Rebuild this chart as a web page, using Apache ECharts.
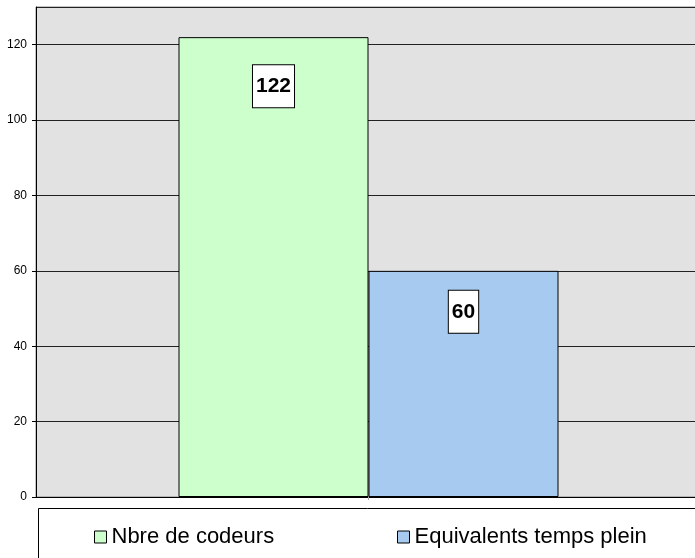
<!DOCTYPE html>
<html>
<head>
<meta charset="utf-8">
<script src="https://cdn.jsdelivr.net/npm/echarts@6/dist/echarts.min.js"></script>
<style>html,body{margin:0;padding:0;background:#fff;}#c{width:695px;height:558px;}</style>
</head>
<body>
<div id="c"></div>
<script>
const categories = [''];
const seriesNames = ['Nbre de codeurs', 'Equivalents temps plein'];
const nbreCodeurs = [122];
const equivalentsTempsPlein = [60];
const yTicks = [0, 20, 40, 60, 80, 100, 120];

const FONT = 'Liberation Sans, Arial, sans-serif';
const chart = echarts.init(document.getElementById('c'), null, {renderer: 'canvas'});

const labelBase = {
  show: true,
  position: 'insideTop',
  color: '#000',
  fontFamily: FONT,
  fontWeight: 'bold',
  fontSize: 21,
  backgroundColor: '#fff',
  borderColor: '#000',
  borderWidth: 1,
  padding: [11, 3, 10, 3]
};

const legendBase = {
  top: 521, icon: 'rect', padding: 0,
  itemWidth: 12, itemHeight: 12, itemGap: 6,
  textStyle: {fontSize: 22, color: '#000', fontFamily: FONT},
  itemStyle: {borderColor: '#000', borderWidth: 1}
};

chart.setOption({
  animation: false,
  backgroundColor: '#fff',
  textStyle: {fontFamily: FONT},
  grid: {
    left: 36, top: 7, width: 665, bottom: 61,
    outerBoundsMode: 'none',
    show: true, backgroundColor: '#e2e2e2', borderColor: '#888', borderWidth: 1,
    containLabel: false
  },
  graphic: [{
    type: 'rect', z: 0,
    shape: {x: 38.5, y: 508.5, width: 700, height: 80},
    style: {fill: '#fff', stroke: '#000', lineWidth: 1}
  }],
  legend: [
    Object.assign({}, legendBase, {data: [seriesNames[0]], left: 94, top: 526}),
    Object.assign({}, legendBase, {data: [seriesNames[1]], left: 397, top: 526})
  ],
  xAxis: {
    type: 'category', data: categories,
    axisLine: {show: true, lineStyle: {color: '#000', width: 1}},
    axisTick: {show: true, alignWithLabel: true, length: 3, lineStyle: {color: '#aaa'}},
    axisLabel: {show: false}
  },
  yAxis: {
    type: 'value', min: 0, max: 130, interval: 20,
    axisLine: {show: true, lineStyle: {color: '#000', width: 1}},
    axisTick: {show: true, length: 4, lineStyle: {color: '#000'}},
    axisLabel: {
      color: '#000', fontSize: 12, fontFamily: FONT, margin: 9,
      showMaxLabel: false,
      formatter: v => (yTicks.indexOf(v) >= 0 ? String(v) : '')
    },
    splitLine: {show: true, lineStyle: {color: '#222', width: 1}}
  },
  series: [
    {
      name: seriesNames[0], type: 'bar', data: nbreCodeurs,
      barGap: '0%', barWidth: 190,
      itemStyle: {color: '#ccffcc', borderColor: '#000', borderWidth: 1},
      label: Object.assign({}, labelBase, {distance: 28})
    },
    {
      name: seriesNames[1], type: 'bar', data: equivalentsTempsPlein,
      barGap: '0%', barWidth: 190,
      itemStyle: {color: '#a6caf0', borderColor: '#000', borderWidth: 1},
      label: Object.assign({}, labelBase, {distance: 20})
    }
  ]
});
</script>
</body>
</html>
